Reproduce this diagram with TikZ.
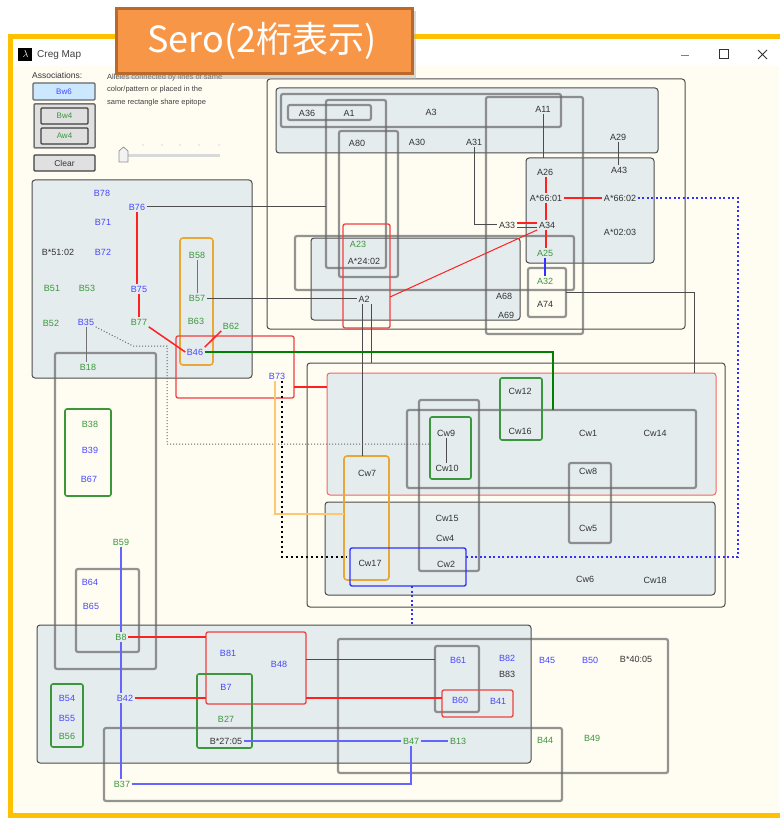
\documentclass[tikz,border=0pt]{standalone}
\usepackage{fontspec}
\setmainfont{Liberation Sans}
\newfontfamily\cjkf{Noto Sans CJK JP}
\definecolor{cream}{HTML}{FFFDF2}
\definecolor{grpfill}{HTML}{E5ECEE}
\definecolor{tblue}{HTML}{4646FF}
\definecolor{tgreen}{HTML}{3A963A}
\definecolor{tblack}{HTML}{333333}
\definecolor{frameyel}{HTML}{FFC000}
\definecolor{orfill}{HTML}{F79646}
\definecolor{ordraw}{HTML}{B9692C}
\definecolor{boxred}{HTML}{F04040}
\definecolor{boxgreen}{HTML}{3C963C}
\definecolor{boxorange}{HTML}{E8A838}
\definecolor{lred}{HTML}{FF2020}
\definecolor{lblue}{HTML}{3030FF}
\definecolor{lblue2}{HTML}{6464FF}
\definecolor{lorange}{HTML}{FFC870}
\definecolor{btnblue}{HTML}{CCE8FF}
\begin{document}
\begin{tikzpicture}[x=1pt,y=-1pt,
 lb/.style={font=\fontsize{9}{10}\selectfont, inner sep=1.5pt},
 bl/.style={lb,text=tblue}, gr/.style={lb,text=tgreen}, bk/.style={lb,text=tblack},
 grp/.style={draw=black!70, fill=grpfill, line width=1pt, rounded corners=3pt},
 outerbox/.style={draw=black!70, fill=cream, line width=1pt, rounded corners=3pt},
 gbox/.style={draw=black!60, draw opacity=0.7, line width=2.2pt, rounded corners=2pt},
 rbox/.style={draw=boxred, line width=1.3pt, rounded corners=2pt},
 grbox/.style={draw=boxgreen, line width=1.6pt, rounded corners=2pt},
 obox/.style={draw=boxorange, line width=1.6pt, rounded corners=3pt},
 bbox/.style={draw=lblue, line width=1.4pt, rounded corners=2pt},
 cline/.style={draw=black!70, line width=1pt},
 rline/.style={draw=lred, line width=1.5pt},
 rthin/.style={draw=lred, line width=1pt},
 bline/.style={draw=lblue2, line width=1.1pt},
 bthick/.style={draw=lblue, line width=2pt},
 gline/.style={draw=green!50!black, line width=1.1pt},
 oline/.style={draw=lorange, line width=1.1pt},
 bdot/.style={draw=lblue, line width=1.6pt, dash pattern=on 2pt off 2.5pt},
 kdash/.style={draw=black, line width=1.5pt, dash pattern=on 2.5pt off 2.5pt},
 gdot/.style={draw=black!60, line width=1pt, dash pattern=on 1pt off 2pt},
 btn/.style={draw=black!75, fill=black!12, line width=1.2pt, rounded corners=1pt},
]
\useasboundingbox (0,0) rectangle (779,818);
\fill[white] (0,0) rectangle (779,818);
% window
\draw[frameyel, line width=5pt] (10,37) rectangle (790,815.5);
\fill[white] (12.5,39.5) rectangle (779,813);
\fill[cream] (13,66) rectangle (779,813);
% title bar
\fill[black] (18,48) rectangle (32,61);
\node[text=white, inner sep=0pt, font=\fontsize{10}{10}\selectfont] (icon) at (25.5,54.5) {$\lambda$};
\node[anchor=west, text=black!75, inner sep=0pt, font=\fontsize{10}{12}\selectfont] (title) at (37,55) {Creg Map};
\draw[black!50, line width=0.8pt] (681,55) -- (689,55);
\draw[black!80, line width=1pt] (719,50) rectangle (728,59);
\draw[black!80, line width=1pt] (758,50) -- (767,59) (758,59) -- (767,50);
% left controls
\node[anchor=west, text=black!80, inner sep=0pt, font=\fontsize{8.5}{10}\selectfont] (assoc) at (32,75) {Associations:};
\draw[draw=black!60, fill=btnblue, line width=1.2pt, rounded corners=1pt] (33,83) rectangle (95,100);
\node[text=tblue, inner sep=0pt, font=\fontsize{8}{9}\selectfont] (bw6) at (64,91.5) {Bw6};
\draw[draw=black!55, fill=black!12, line width=1.5pt, rounded corners=1pt] (34,104) rectangle (95,148);
\draw[btn] (41,108) rectangle (88,124);
\node[text=tgreen, inner sep=0pt, font=\fontsize{8}{9}\selectfont] (bw4) at (64.5,116) {Bw4};
\draw[btn] (41,128) rectangle (88,144);
\node[text=tgreen, inner sep=0pt, font=\fontsize{8}{9}\selectfont] (aw4) at (64.5,136) {Aw4};
\draw[btn] (34,155) rectangle (95,171);
\node[text=black!80, inner sep=0pt, font=\fontsize{8.5}{9}\selectfont] (clear) at (64.5,163) {Clear};
\draw[black!15, line width=3pt] (120,156) -- (220,156);
\foreach \tx in {143,162,180,199,219} \fill[black!30] (\tx,145) circle (0.7);
\draw[black!45, fill=black!5, line width=0.7pt] (119,162) -- (119,151) -- (123.5,147) -- (128,151) -- (128,162) -- cycle;
\node[anchor=north west, text=black!75, inner sep=0pt, align=left, font=\fontsize{7.5}{12.3}\selectfont] (desc) at (107,74) {Alleles connected by lines of same\\color/pattern or placed in the\\same rectangle share epitope};

% ================= outer boxes
\draw[outerbox] (267,79) rectangle (685,329);
\draw[outerbox] (307,363) rectangle (725,607);
% group boxes
\draw[grp] (276,88) rectangle (658,153);
\draw[grp] (526,158) rectangle (654,263);
\draw[grp] (311,238) rectangle (520,320);
\draw[grp] (32,180) rectangle (252,378);
\draw[grp, draw=boxred!80] (327,373) rectangle (716,495);
\draw[grp] (325,502) rectangle (715,595);
\draw[grp] (37,625) rectangle (531,763);
\draw[obox, fill=grpfill] (180,238) rectangle (213,365);

% grey boxes
\draw[gbox] (281,94) rectangle (561,127);
\draw[gbox] (288,105) rectangle (371,120);
\draw[gbox] (486,97) rectangle (583,334);
\draw[gbox] (326,100) rectangle (386,268);
\draw[gbox] (339,131) rectangle (398,277);
\draw[gbox] (295,236) rectangle (574,290);
\draw[gbox] (528,268) rectangle (566,317);
\draw[gbox] (407,410) rectangle (696,488);
\draw[gbox] (419,400) rectangle (479,571);
\draw[gbox] (569,463) rectangle (611,543);
\draw[gbox] (55,353) rectangle (156,669);
\draw[gbox] (76,569) rectangle (139,652);
\draw[gbox] (104,728) rectangle (562,801);
\draw[gbox] (338,639) rectangle (668,773);
\draw[gbox] (435,646) rectangle (479,712);
% red boxes
\draw[rbox] (343,224) rectangle (390,328);
\draw[rbox] (176,336) rectangle (294,398);
\draw[rbox] (206,632) rectangle (306,704);
\draw[rbox] (442,690) rectangle (513,717);
% green boxes
\draw[grbox] (500,378) rectangle (542,440);
\draw[grbox] (430,417) rectangle (471,479);
\draw[grbox] (65,409) rectangle (111,496);
\draw[grbox] (197,674) rectangle (252,748);
\draw[grbox] (51,684) rectangle (83,747);
% orange / blue
\draw[obox] (344,456) rectangle (389,580);
\draw[bbox] (350,548) rectangle (466,586);

% ================= labels A
\node[bk] (A36) at (307,113) {A36};
\node[bk] (A1) at (349,113) {A1};
\node[bk] (A3) at (431,112) {A3};
\node[bk] (A11) at (543,109) {A11};
\node[bk] (A80) at (357,143) {A80};
\node[bk] (A30) at (417,142) {A30};
\node[bk] (A31) at (474,142) {A31};
\node[bk] (A29) at (618,137) {A29};
\node[bk] (A26) at (545,172) {A26};
\node[bk] (A43) at (619,170) {A43};
\node[bk] (A6601) at (546,198) {A*66:01};
\node[bk] (A6602) at (620,198) {A*66:02};
\node[bk] (A33) at (507,225) {A33};
\node[bk] (A34) at (547,225) {A34};
\node[bk] (A0203) at (620,232) {A*02:03};
\node[gr] (A25) at (545,253) {A25};
\node[gr] (A32) at (545,281) {A32};
\node[bk] (A74) at (545,304) {A74};
\node[gr] (A23) at (358,244) {A23};
\node[bk] (A2402) at (364,261) {A*24:02};
\node[bk] (A2) at (364,299) {A2};
\node[bk] (A68) at (504,296) {A68};
\node[bk] (A69) at (506,315) {A69};
% labels B left
\node[bl] (B78) at (102,193) {B78};
\node[bl] (B76) at (137,207) {B76};
\node[bl] (B71) at (103,222) {B71};
\node[bk] (B5102) at (58,252) {B*51:02};
\node[bl] (B72) at (103,252) {B72};
\node[gr] (B51) at (52,288) {B51};
\node[gr] (B53) at (87,288) {B53};
\node[bl] (B75) at (139,289) {B75};
\node[gr] (B52) at (51,323) {B52};
\node[bl] (B35) at (86,322) {B35};
\node[gr] (B77) at (139,322) {B77};
\node[gr] (B18) at (88,367) {B18};
\node[gr] (B58) at (197,255) {B58};
\node[gr] (B57) at (197,298) {B57};
\node[gr] (B63) at (196,321) {B63};
\node[gr] (B62) at (231,326) {B62};
\node[bl] (B46) at (195,352) {B46};
\node[bl] (B73) at (277,376) {B73};
\node[gr] (B38) at (90,424) {B38};
\node[bl] (B39) at (90,450) {B39};
\node[bl] (B67) at (89,479) {B67};
\node[gr] (B59) at (121,542) {B59};
\node[bl] (B64) at (90,582) {B64};
\node[bl] (B65) at (91,606) {B65};
\node[gr] (B8) at (121,637) {B8};
% bottom
\node[bl] (B81) at (228,653) {B81};
\node[bl] (B48) at (279,664) {B48};
\node[bl] (B7) at (226,687) {B7};
\node[gr] (B27) at (226,719) {B27};
\node[bk] (B2705) at (226,741) {B*27:05};
\node[bl] (B54) at (67,698) {B54};
\node[bl] (B55) at (67,718) {B55};
\node[gr] (B56) at (67,736) {B56};
\node[bl] (B42) at (125,698) {B42};
\node[gr] (B37) at (122,784) {B37};
\node[gr] (B47) at (411,741) {B47};
\node[gr] (B13) at (458,741) {B13};
\node[bl] (B61) at (458,660) {B61};
\node[bl] (B60) at (460,700) {B60};
\node[bl] (B41) at (498,701) {B41};
\node[bl] (B82) at (507,658) {B82};
\node[bk] (B83) at (507,674) {B83};
\node[bl] (B45) at (547,660) {B45};
\node[bl] (B50) at (590,660) {B50};
\node[bk] (B4005) at (636,659) {B*40:05};
\node[gr] (B44) at (545,740) {B44};
\node[gr] (B49) at (592,738) {B49};
% Cw
\node[bk] (Cw12) at (520,391) {Cw12};
\node[bk] (Cw16) at (520,431) {Cw16};
\node[bk] (Cw9) at (446,433) {Cw9};
\node[bk] (Cw10) at (447,468) {Cw10};
\node[bk] (Cw1) at (588,433) {Cw1};
\node[bk] (Cw14) at (655,433) {Cw14};
\node[bk] (Cw8) at (588,471) {Cw8};
\node[bk] (Cw5) at (588,528) {Cw5};
\node[bk] (Cw7) at (367,473) {Cw7};
\node[bk] (Cw17) at (370,563) {Cw17};
\node[bk] (Cw2) at (446,564) {Cw2};
\node[bk] (Cw15) at (447,518) {Cw15};
\node[bk] (Cw4) at (445,538) {Cw4};
\node[bk] (Cw6) at (585,579) {Cw6};
\node[bk] (Cw18) at (655,580) {Cw18};

% ================= coordinates for free ends
\coordinate (argtop) at (543,158);
\coordinate (dotR1) at (738,198);
\coordinate (dotR2) at (738,557);
\coordinate (cw2r) at (466,557);
\coordinate (a2r) at (390,297);
\coordinate (a74r) at (566,292);
\coordinate (cwredtop) at (694,373);
\coordinate (lA) at (326,207);
\coordinate (cw7top) at (362,456);
\coordinate (cwotop) at (371,363);
\coordinate (gEnd) at (553,410);
\coordinate (dB1) at (133,346);
\coordinate (dB2) at (167,346);
\coordinate (dB3) at (167,444);
\coordinate (cw9l) at (430,444);
\coordinate (rb1) at (294,387);
\coordinate (rb2) at (327,387);
\coordinate (c7l) at (344,514);
\coordinate (c17l) at (347,557);
\coordinate (cw2b) at (412,586);
\coordinate (bbtop) at (412,625);
\coordinate (b81l) at (206,637);
\coordinate (b7l) at (206,698);
\coordinate (b48r) at (306,659);
\coordinate (b61l) at (435,659);
\coordinate (rr1) at (306,698);
\coordinate (b60l) at (442,698);

% ================= connectors
\draw[cline] (A11.south) -- (argtop);
\draw[cline] (A29.south) -- (A29.south |- A43.north);
\draw[rline] (A6601.north |- A26.south) -- (A6601.north);
\draw[rline] (A6601.south) -- (A6601.south |- A34.north);
\draw[rline] (A6601.south |- A34.south) -- (A6601.south |- A25.north);
\draw[rline] (A6601) -- (A6602);
\draw[bdot] (A6602.east) -- (dotR1) -- (dotR2) -- (cw2r);
\draw[cline] (A31) |- (A33);
\draw[rline, line width=1.2pt] ([yshift=2pt]A33.east) -- ([yshift=2pt]A34.west);
\draw[cline] ([yshift=-2pt]A33.east) -- ([yshift=-2pt]A34.west);
\draw[bthick] (A25.south) -- (A25.south |- A32.north);
\draw[rthin] (A34.south west) -- (a2r);
\draw[cline] (a74r) -| (cwredtop);
\draw[cline] (B57.east) -- (B57.east -| A2.west);
\draw[cline] (A2.south -| cw7top) -- (cw7top);
\draw[cline] (A2.south -| cwotop) -- (cwotop);
\draw[cline] (B76.east) -- (lA);
\draw[rline] (B76.south) -- (B76.south |- B75.north);
\draw[rline] (B75) -- (B77);
\draw[rline] (B77.south east) -- (B46.west);
\draw[rline] (B62.south west) -- (B46.north east);
\draw[cline, draw=black!55] (B58) -- (B57);
\draw[cline, draw=black!55] (B35.south) -- (B35.south |- B18.north);
\draw[gline] (B46.east) -| (gEnd);
\draw[gdot] (B35.south east) -- (dB1) -- (dB2) -- (dB3) -- (cw9l);
\draw[rline, line width=1.2pt] (rb1) -- (rb2);
\draw[oline] ([xshift=-2pt]B73.south) |- (c7l);
\draw[kdash] ([xshift=5pt]B73.south) |- (c17l);
\draw[cline] (Cw9.south) -- (Cw9.south |- Cw10.north);
\draw[bdot] (cw2b) -- (bbtop);
\draw[bline] (B59.south) -- (B59.south |- B8.north);
\draw[bline] (B8.south) -- (B8.south |- B42.north);
\draw[bline] (B8.south |- B42.south) -- (B8.south |- B37.north);
\draw[rline] (B8.east) -- (b81l);
\draw[rline, line width=2pt] (B42.east) -- (b7l);
\draw[cline] (b48r) -- (b61l);
\draw[rline] (rr1) -- (b60l);
\draw[bline] (B2705.east) -- (B2705.east -| B47.west);
\draw[bline] (B47.east) -- (B13.west);
\draw[bline] (B37) -| (B47);

% ================= orange title label
\fill[black!30, opacity=0.5] (118,11) rectangle (416,79);
\draw[draw=ordraw, fill=orfill, line width=3pt] (116,9) rectangle (412,74);
\node[text=white, inner sep=0pt, font=\cjkf\fontsize{36}{40}\selectfont] (sero) at (262,41) {Sero(2桁表示)};
\end{tikzpicture}
\end{document}
